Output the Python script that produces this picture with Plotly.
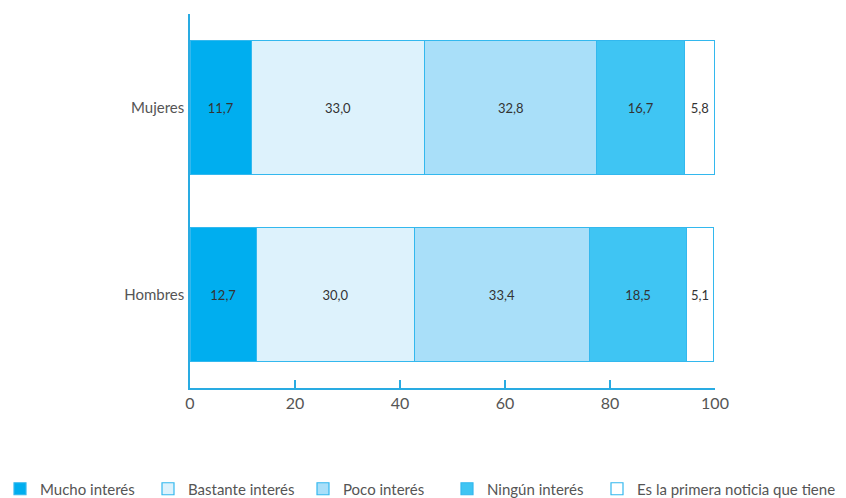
import plotly.graph_objects as go

categories = ["Hombres", "Mujeres"]
series_names = ["Mucho interés", "Bastante interés", "Poco interés", "Ningún interés", "Es la primera noticia que tiene"]
mucho = [12.7, 11.7]
bastante = [30.0, 33.0]
poco = [33.4, 32.8]
ninguno = [18.5, 16.7]
primera = [5.1, 5.8]
x_ticks = [0, 20, 40, 60, 80, 100]

values = [mucho, bastante, poco, ninguno, primera]
colors = ["#00AEEF", "#DDF2FC", "#A9DFF9", "#3FC5F3", "#FFFFFF"]
edge = "#33B8EE"
legend_x_px = [0, 148, 303, 447, 597]

W, H = 846, 498
fig = go.Figure()
legend_layout = {}
for i, (name, vals, col) in enumerate(zip(series_names, values, colors)):
    lname = "legend" if i == 0 else f"legend{i+1}"
    fig.add_trace(go.Bar(
        y=categories, x=vals, name=name, orientation="h",
        marker=dict(color=col, line=dict(color=edge, width=1.2)),
        text=vals, texttemplate="%{x:.1f}", textposition="inside",
        insidetextanchor="middle", constraintext="none",
        textfont=dict(size=13, color="#333333"),
        hoverinfo="skip", legend=lname,
    ))
    legend_layout[lname] = dict(
        orientation="h", xref="container", yref="container",
        x=legend_x_px[i] / W, xanchor="left", y=9 / H, yanchor="middle",
        font=dict(size=15, color="#555555"), itemclick=False,
        bgcolor="rgba(0,0,0,0)",
    )

fig.update_layout(
    barmode="stack",
    bargap=0.28,
    separators=",.",
    width=W, height=H,
    margin=dict(l=190, r=131, t=14, b=110, autoexpand=False),
    paper_bgcolor="white", plot_bgcolor="white",
    font=dict(family="Lato, Open Sans, sans-serif", color="#555555", size=15),
    showlegend=True,
    xaxis=dict(range=[0, 100], tickvals=x_ticks, showgrid=False, zeroline=False,
               showline=True, linecolor="#29ABE2", linewidth=1.5,
               ticks="inside", ticklen=8, tickcolor="#29ABE2", tickwidth=1.5,
               tickfont=dict(size=16, color="#555555")),
    yaxis=dict(showgrid=False, zeroline=False, showline=True, linecolor="#29ABE2",
               linewidth=1.5, ticks="", ticklabelstandoff=1,
               tickfont=dict(size=15, color="#555555")),
    **legend_layout,
)

fig.write_html("out.html", config={"displayModeBar": False},
               post_script="document.body.style.margin='0';")
